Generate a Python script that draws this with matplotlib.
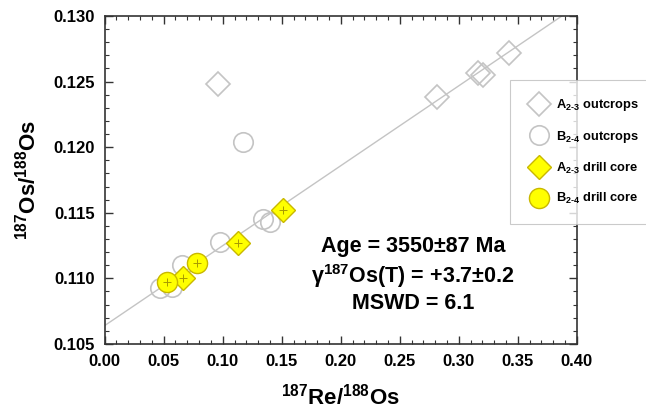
import matplotlib
matplotlib.use("Agg")
import matplotlib.pyplot as plt
import numpy as np

FAM = "Liberation Sans"
plt.rcParams["font.family"] = [FAM, "DejaVu Sans"]
plt.rcParams["font.weight"] = "bold"
plt.rcParams["mathtext.fontset"] = "custom"
plt.rcParams["mathtext.rm"] = FAM + ":bold"
plt.rcParams["mathtext.bf"] = FAM + ":bold"
plt.rcParams["mathtext.default"] = "bf"

# 187Re/188Os, 187Os/188Os
a_out_x = [0.0958, 0.2814, 0.3166, 0.3208, 0.3429]
a_out_y = [0.12482, 0.12385, 0.12563, 0.12550, 0.12720]

b_out_x = [0.0469, 0.0568, 0.0653, 0.0977, 0.1169, 0.1344, 0.1401]
b_out_y = [0.10925, 0.10937, 0.11102, 0.11280, 0.12042, 0.11450, 0.11432]

a_core_x = [0.0666, 0.1132, 0.1514]
a_core_y = [0.11001, 0.11272, 0.11521]

b_core_x = [0.0525, 0.0780]
b_core_y = [0.10975, 0.11120]

# isochron
slope = 0.06093
intercept = 0.1064

GRAY = "#c4c4c4"
YEL = "#ffff00"
YEL_EDGE = "#c9b800"
BOLD = dict(fontweight="bold")

fig = plt.figure(figsize=(6.46, 4.2), dpi=100)
ax = fig.add_axes([0.162, 0.181, 0.731, 0.781])

xl = np.array([0.0, 0.40])
ax.plot(xl, intercept + slope * xl, color=GRAY, lw=1.0, zorder=1)

ax.plot(a_out_x, a_out_y, "D", ms=12.5, mfc="none", mec=GRAY, mew=1.2,
        ls="none", zorder=2, label=r"A$_{2\text{-}3}$ outcrops")
ax.plot(b_out_x, b_out_y, "o", ms=14, mfc="none", mec=GRAY, mew=1.2,
        ls="none", zorder=2, label=r"B$_{2\text{-}4}$ outcrops")
ax.plot(a_core_x, a_core_y, "D", ms=12.5, mfc=YEL, mec=YEL_EDGE, mew=1.0,
        ls="none", zorder=3, label=r"A$_{2\text{-}3}$ drill core")
ax.plot(b_core_x, b_core_y, "o", ms=14.5, mfc=YEL, mec=YEL_EDGE, mew=1.0,
        ls="none", zorder=3, label=r"B$_{2\text{-}4}$ drill core")
# small crosses at the drill-core centres
ax.plot(a_core_x + b_core_x, a_core_y + b_core_y, "+", ms=6, mew=0.7,
        color="#a89a00", ls="none", zorder=4)

xt = np.arange(0, 0.401, 0.05)
yt = np.arange(0.105, 0.1301, 0.005)
ax.set_xlim(0, 0.40)
ax.set_ylim(0.105, 0.130)
ax.set_xticks(xt)
ax.set_yticks(yt)
ax.set_xticks(np.arange(0, 0.401, 0.01), minor=True)
ax.set_yticks(np.arange(0.105, 0.1301, 0.001), minor=True)
ax.set_xticklabels([f"{v:.2f}" for v in xt], fontsize=12, **BOLD)
ax.set_yticklabels([f"{v:.3f}" for v in yt], fontsize=12, **BOLD)
ax.tick_params(which="both", direction="in", top=True, right=True,
               color="#333333", pad=7)
ax.tick_params(which="major", length=6, width=1.0)
ax.tick_params(which="minor", length=3, width=0.8)
for s in ax.spines.values():
    s.set_color("#333333")
    s.set_linewidth(1.2)

ax.set_xlabel(r"$^{187}$Re/$^{188}$Os", fontsize=16, labelpad=11, **BOLD)
ax.set_ylabel(r"$^{187}$Os/$^{188}$Os", fontsize=16, labelpad=9, **BOLD)

for y, s in [(0.296, "Age = 3550±87 Ma"),
             (0.207, r"γ$^{187}$Os(T) = +3.7±0.2"),
             (0.122, "MSWD = 6.1")]:
    ax.text(0.653, y, s, transform=ax.transAxes, ha="center", va="center",
            fontsize=15.5, **BOLD)

leg = fig.legend(loc="upper left", bbox_to_anchor=(510 / 646, 1 - 80 / 420),
                 frameon=True, fancybox=False,
                 prop=dict(family=FAM, weight="bold", size=9.3),
                 labelspacing=1.2, handletextpad=0.45, borderpad=1.35,
                 handlelength=1.75, borderaxespad=0)
leg.get_frame().set_edgecolor("#bdbdbd")
leg.get_frame().set_linewidth(0.8)

fig.savefig("out.png", dpi=100)
